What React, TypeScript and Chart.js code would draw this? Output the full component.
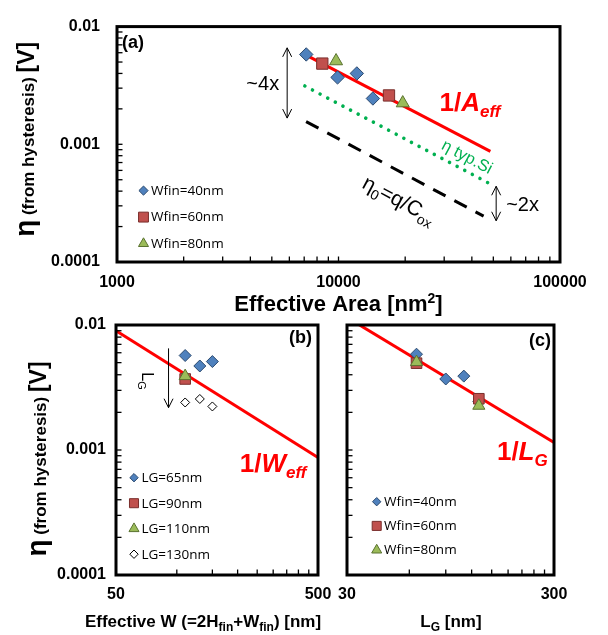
import { useEffect, useRef } from "react";
import { Chart, registerables } from "chart.js";

Chart.register(...registerables);

const W = 608;
const H = 635;
const FONT = "'Liberation Sans', Arial, sans-serif";
const LEGEND_FONT = "'Open Sans', sans-serif";

const BLUE = "#4F81BD";
const BLUE_EDGE = "#2C4A6E";
const RED = "#C0504D";
const RED_EDGE = "#7A2E2C";
const GREEN = "#9BBB59";
const GREEN_EDGE = "#5A7230";

// ---------- axes ----------
const etaMin = 0.0001;
const etaMax = 0.01;
const etaTickLabels = [0.0001, 0.001, 0.01];
const areaTickLabels = [1000, 10000, 100000];
const weffTickLabels = [50, 500];
const lgTickLabels = [30, 300];

// ---------- panel (a): eta vs effective area ----------
const areaW40 = [7150, 9900, 12100, 14300];
const etaW40a = [0.0058, 0.0037, 0.004, 0.00245];
const areaW60 = [8450, 16900];
const etaW60a = [0.00485, 0.0026];
const areaW80 = [9750, 19500];
const etaW80a = [0.0051, 0.00224];
const fitAreaX = [7140, 48500];
const fitAreaY = [0.00573, 0.00087];
const typSiX = [7050, 48500];
const typSiY = [0.00313, 0.00046];
const eta0X = [7140, 45200];
const eta0Y = [0.00156, 0.000245];
const arrow4xX = 5865;
const arrow4xY = [0.0066, 0.00167];
const arrow2xX = 51500;
const arrow2xY = [0.00044, 0.000224];
const labelAeffAt = [28600, 0.0019];
const labelTypSiAt = [38200, 0.00079];
const labelEta0At = [18840, 0.00034];

// ---------- panel (b): eta vs effective W ----------
const weffLG65 = [110, 130, 150];
const etaLG65 = [0.0057, 0.0047, 0.0051];
const weffLG90 = [110];
const etaLG90 = [0.0037];
const weffLG110 = [110];
const etaLG110 = [0.0039];
const weffLG130 = [110, 130, 150];
const etaLG130 = [0.0024, 0.00256, 0.00223];
const fitWX = [50, 500];
const fitWY = [0.009, 0.00087];
const arrowLgX = 91;
const arrowLgY = [0.0065, 0.00218];
const labelLgAt = [72, 0.00356];
const labelWeffAt = [205, 0.00067];

// ---------- panel (c): eta vs LG ----------
const lgW40 = [65, 90, 110, 130];
const etaW40c = [0.00584, 0.0037, 0.0039, 0.00245];
const lgW60 = [65, 130];
const etaW60c = [0.00495, 0.00257];
const lgW80 = [65, 130];
const etaW80c = [0.00505, 0.00226];
const fitLX = [30, 300];
const fitLY = [0.0115, 0.00115];
const labelLgFitAt = [159, 0.00083];

// ---------- helpers ----------
const zip = (xs: number[], ys: number[]) => xs.map((x, i) => ({ x, y: ys[i] }));

const YW = 100;
const XH = 40;
type Area = { left: number; top: number; right: number; bottom: number };
const padFor = (a: Area) => ({ left: a.left - YW, top: a.top, right: W - a.right, bottom: H - a.bottom - XH });

function logAxis(axis: "x" | "y", min: number, max: number, labels: number[], pad: number) {
  return {
    type: "logarithmic",
    position: axis === "x" ? "bottom" : "left",
    min,
    max,
    grid: { display: false, drawTicks: false },
    border: { display: false },
    ticks: {
      autoSkip: false,
      maxRotation: 0,
      minRotation: 0,
      padding: pad,
      color: "#000",
      font: { family: FONT, size: 16, weight: "bold" },
      callback: (v: any) => {
        const n = Number(v);
        const m = labels.find((l) => Math.abs(l - n) <= l * 1e-6);
        return m === undefined ? "" : String(m);
      },
    },
    afterFit: (s: any) => {
      if (axis === "x") s.height = XH;
      else s.width = YW;
    },
  };
}

type Seg = { t: string; size: number; bold?: boolean; italic?: boolean; dy?: number; color?: string };
const segFont = (s: Seg) => `${s.italic ? "italic " : ""}${s.bold ? "bold " : ""}${s.size}px ${FONT}`;

function drawRich(
  ctx: CanvasRenderingContext2D,
  segs: Seg[],
  x: number,
  y: number,
  align: "left" | "center" | "right",
  rotDeg = 0,
  vcenter = false,
  color = "#000"
) {
  ctx.save();
  ctx.translate(x, y);
  if (rotDeg) ctx.rotate((rotDeg * Math.PI) / 180);
  ctx.textAlign = "left";
  ctx.textBaseline = "alphabetic";
  const widths = segs.map((s) => {
    ctx.font = segFont(s);
    return ctx.measureText(s.t).width;
  });
  const total = widths.reduce((a, b) => a + b, 0);
  let cx = align === "left" ? 0 : align === "center" ? -total / 2 : -total;
  const base = vcenter ? segs[0].size * 0.35 : 0;
  segs.forEach((s, i) => {
    ctx.font = segFont(s);
    ctx.fillStyle = s.color ?? color;
    ctx.fillText(s.t, cx, base + (s.dy ?? 0));
    cx += widths[i];
  });
  ctx.restore();
}

function minorValues(min: number, max: number) {
  const out: number[] = [];
  let base = min;
  while (base < max * 0.9999) {
    for (let k = 1; k <= 9; k++) {
      const v = base * k;
      if (v > min * 1.0001 && v < max * 0.9999) out.push(v);
    }
    base *= 10;
  }
  return out;
}

function drawFrame(chart: any) {
  const { ctx, chartArea: a, scales } = chart;
  ctx.save();
  ctx.strokeStyle = "#000";
  ctx.lineWidth = 1.3;
  for (const v of minorValues(scales.x.min, scales.x.max)) {
    const x = scales.x.getPixelForValue(v);
    ctx.beginPath();
    ctx.moveTo(x, a.bottom);
    ctx.lineTo(x, a.bottom - 5.5);
    ctx.stroke();
  }
  for (const v of minorValues(scales.y.min, scales.y.max)) {
    const y = scales.y.getPixelForValue(v);
    ctx.beginPath();
    ctx.moveTo(a.left, y);
    ctx.lineTo(a.left + 5.5, y);
    ctx.stroke();
  }
  ctx.lineWidth = 3;
  ctx.strokeRect(a.left, a.top, a.right - a.left, a.bottom - a.top);
  ctx.restore();
}

function drawMarker(ctx: CanvasRenderingContext2D, style: string, x: number, y: number, r: number, fill: string, edge: string) {
  ctx.beginPath();
  if (style === "rectRot") {
    ctx.moveTo(x - r, y);
    ctx.lineTo(x, y - r);
    ctx.lineTo(x + r, y);
    ctx.lineTo(x, y + r);
  } else if (style === "rect") {
    const s = r * Math.SQRT1_2;
    ctx.rect(x - s, y - s, 2 * s, 2 * s);
  } else {
    ctx.moveTo(x, y - r);
    ctx.lineTo(x + r * 0.866, y + r * 0.5);
    ctx.lineTo(x - r * 0.866, y + r * 0.5);
  }
  ctx.closePath();
  ctx.fillStyle = fill;
  ctx.fill();
  ctx.lineWidth = 1;
  ctx.strokeStyle = edge;
  ctx.stroke();
}

function drawLegend(chart: any, mx: number, tx: number, y0: number, dy: number) {
  const ctx = chart.ctx as CanvasRenderingContext2D;
  let i = 0;
  ctx.save();
  chart.data.datasets.forEach((ds: any) => {
    if (!ds.label) return;
    const y = y0 + dy * i++;
    drawMarker(ctx, ds.pointStyle, mx, y, ds.legendRadius, ds.pointBackgroundColor, ds.pointBorderColor);
    ctx.fillStyle = "#000";
    ctx.font = `13.5px ${LEGEND_FONT}`;
    ctx.textBaseline = "middle";
    ctx.textAlign = "left";
    ctx.fillText(ds.label, tx, y + 0.5);
  });
  ctx.restore();
}

function vArrow(ctx: CanvasRenderingContext2D, x: number, yTop: number, yBot: number, headTop: boolean, headBot: boolean) {
  const hw = 4.5;
  const hl = 9;
  ctx.save();
  ctx.strokeStyle = "#000";
  ctx.lineWidth = 1;
  ctx.beginPath();
  ctx.moveTo(x, yTop);
  ctx.lineTo(x, yBot);
  if (headTop) {
    ctx.moveTo(x - hw, yTop + hl);
    ctx.lineTo(x, yTop);
    ctx.lineTo(x + hw, yTop + hl);
  }
  if (headBot) {
    ctx.moveTo(x - hw, yBot - hl);
    ctx.lineTo(x, yBot);
    ctx.lineTo(x + hw, yBot - hl);
  }
  ctx.stroke();
  ctx.restore();
}

function yTitle(ctx: CanvasRenderingContext2D, x: number, y: number) {
  drawRich(
    ctx,
    [
      { t: "η", size: 28, bold: true },
      { t: " (from hysteresis) ", size: 17, bold: true },
      { t: "[V]", size: 23, bold: true },
    ],
    x,
    y,
    "center",
    -90
  );
}

function scatterSet(label: string, xs: number[], ys: number[], style: string, r: number, lr: number, fill: string, edge: string, order: number) {
  return {
    label,
    data: zip(xs, ys),
    pointStyle: style,
    pointRadius: r,
    pointHoverRadius: r,
    pointBackgroundColor: fill,
    pointBorderColor: edge,
    pointBorderWidth: 1,
    backgroundColor: fill,
    borderColor: edge,
    showLine: false,
    legendRadius: lr,
    order,
  };
}

function lineSet(xs: number[], ys: number[], color: string, width: number, dash: number[], cap: string, order: number) {
  return {
    data: zip(xs, ys),
    showLine: true,
    pointRadius: 0,
    pointHoverRadius: 0,
    borderColor: color,
    borderWidth: width,
    borderDash: dash,
    borderCapStyle: cap,
    fill: false,
    order,
  };
}

function baseOptions(area: Area, xAxis: any, yAxis: any) {
  return {
    responsive: false,
    animation: false,
    devicePixelRatio: 1,
    events: [],
    layout: { padding: padFor(area) },
    scales: { x: xAxis, y: yAxis },
    plugins: { legend: { display: false }, tooltip: { enabled: false }, title: { display: false } },
  };
}

const areaA: Area = { left: 117, top: 14, right: 560, bottom: 262 };
const areaB: Area = { left: 116, top: 325, right: 318, bottom: 575 };
const areaC: Area = { left: 347, top: 325, right: 554, bottom: 575 };

function configA(): any {
  return {
    type: "scatter",
    data: {
      datasets: [
        scatterSet("Wfin=40nm", areaW40, etaW40a, "rectRot", 6.7, 4.6, BLUE, BLUE_EDGE, 3),
        scatterSet("Wfin=60nm", areaW60, etaW60a, "rect", 8, 7, RED, RED_EDGE, 2),
        scatterSet("Wfin=80nm", areaW80, etaW80a, "triangle", 7.5, 5.8, GREEN, GREEN_EDGE, 1),
        lineSet(fitAreaX, fitAreaY, "#FF0000", 3, [], "butt", 5),
        lineSet(typSiX, typSiY, "#00B050", 3.6, [0.01, 8.6], "round", 6),
        lineSet(eta0X, eta0Y, "#000000", 3, [14, 10], "butt", 7),
      ],
    },
    options: baseOptions(areaA, logAxis("x", 1000, 100000, areaTickLabels, 11), logAxis("y", etaMin, etaMax, etaTickLabels, 17)),
    plugins: [
      {
        id: "decoA",
        afterDatasetsDraw(chart: any) {
          const ctx = chart.ctx as CanvasRenderingContext2D;
          const a = chart.chartArea;
          const px = (v: number) => chart.scales.x.getPixelForValue(v);
          const py = (v: number) => chart.scales.y.getPixelForValue(v);
          drawFrame(chart);
          drawRich(ctx, [{ t: "(a)", size: 18, bold: true }], a.left + 5, a.top + 15.5, "left", 0, true);
          const x4 = px(arrow4xX);
          vArrow(ctx, x4, py(arrow4xY[0]), py(arrow4xY[1]), true, true);
          const ym4 = (py(arrow4xY[0]) + py(arrow4xY[1])) / 2;
          drawRich(ctx, [{ t: "~4x", size: 20 }], x4 - 8, ym4, "right", 0, true);
          const x2 = px(arrow2xX);
          vArrow(ctx, x2, py(arrow2xY[0]), py(arrow2xY[1]), true, true);
          const ym2 = (py(arrow2xY[0]) + py(arrow2xY[1])) / 2;
          drawRich(ctx, [{ t: "~2x", size: 20 }], x2 + 10, ym2, "left", 0, true);
          drawRich(
            ctx,
            [
              { t: "1/", size: 26, bold: true },
              { t: "A", size: 26, bold: true, italic: true },
              { t: "eff", size: 17, bold: true, italic: true, dy: 6 },
            ],
            px(labelAeffAt[0]),
            py(labelAeffAt[1]),
            "left",
            0,
            false,
            "#FF0000"
          );
          const angG = (Math.atan2(py(typSiY[1]) - py(typSiY[0]), px(typSiX[1]) - px(typSiX[0])) * 180) / Math.PI;
          drawRich(ctx, [{ t: "η typ.Si", size: 16.5 }], px(labelTypSiAt[0]), py(labelTypSiAt[1]), "center", angG, true, "#00B050");
          const angK = (Math.atan2(py(eta0Y[1]) - py(eta0Y[0]), px(eta0X[1]) - px(eta0X[0])) * 180) / Math.PI;
          drawRich(
            ctx,
            [
              { t: "η", size: 21 },
              { t: "0", size: 14, dy: 5 },
              { t: "=q/C", size: 21 },
              { t: "ox", size: 14, dy: 5 },
            ],
            px(labelEta0At[0]),
            py(labelEta0At[1]),
            "center",
            angK,
            true
          );
          drawLegend(chart, a.left + 26.5, a.left + 34, a.top + 164, 26.5);
          yTitle(ctx, 34, (a.top + a.bottom) / 2 - 5);
          drawRich(
            ctx,
            [
              { t: "Effective Area [nm", size: 22, bold: true },
              { t: "2", size: 14, bold: true, dy: -8 },
              { t: "]", size: 22, bold: true },
            ],
            (a.left + a.right) / 2,
            a.bottom + 49,
            "center"
          );
        },
      },
    ],
  };
}

function configB(): any {
  return {
    type: "scatter",
    data: {
      datasets: [
        scatterSet("LG=65nm", weffLG65, etaLG65, "rectRot", 6, 4.2, BLUE, BLUE_EDGE, 4),
        scatterSet("LG=90nm", weffLG90, etaLG90, "rect", 7.5, 6.4, RED, RED_EDGE, 3),
        scatterSet("LG=110nm", weffLG110, etaLG110, "triangle", 7, 5.8, GREEN, GREEN_EDGE, 2),
        scatterSet("LG=130nm", weffLG130, etaLG130, "rectRot", 4.5, 4.2, "#FFFFFF", "#000000", 1),
        lineSet(fitWX, fitWY, "#FF0000", 3, [], "butt", 5),
      ],
    },
    options: baseOptions(areaB, logAxis("x", 50, 500, weffTickLabels, 10), logAxis("y", etaMin, etaMax, etaTickLabels, 10)),
    plugins: [
      {
        id: "decoB",
        afterDatasetsDraw(chart: any) {
          const ctx = chart.ctx as CanvasRenderingContext2D;
          const a = chart.chartArea;
          const px = (v: number) => chart.scales.x.getPixelForValue(v);
          const py = (v: number) => chart.scales.y.getPixelForValue(v);
          drawFrame(chart);
          drawRich(ctx, [{ t: "(b)", size: 18, bold: true }], a.right - 6, a.top + 12, "right", 0, true);
          vArrow(ctx, px(arrowLgX), py(arrowLgY[0]), py(arrowLgY[1]), false, true);
          drawRich(
            ctx,
            [
              { t: "L", size: 16 },
              { t: "G", size: 11, dy: 4 },
            ],
            px(labelLgAt[0]),
            py(labelLgAt[1]),
            "center",
            90,
            true
          );
          drawRich(
            ctx,
            [
              { t: "1/", size: 26, bold: true },
              { t: "W", size: 26, bold: true, italic: true },
              { t: "eff", size: 17, bold: true, italic: true, dy: 6 },
            ],
            px(labelWeffAt[0]),
            py(labelWeffAt[1]),
            "left",
            0,
            false,
            "#FF0000"
          );
          drawLegend(chart, a.left + 18, a.left + 25.5, a.top + 152.7, 25.5);
          yTitle(ctx, 46, 459);
          drawRich(
            ctx,
            [
              { t: "Effective W (=2H", size: 17, bold: true },
              { t: "fin", size: 12, bold: true, dy: 4 },
              { t: "+W", size: 17, bold: true },
              { t: "fin", size: 12, bold: true, dy: 4 },
              { t: ") [nm]", size: 17, bold: true },
            ],
            203,
            627,
            "center"
          );
        },
      },
    ],
  };
}

function configC(): any {
  return {
    type: "scatter",
    data: {
      datasets: [
        scatterSet("Wfin=40nm", lgW40, etaW40c, "rectRot", 6, 4.2, BLUE, BLUE_EDGE, 3),
        scatterSet("Wfin=60nm", lgW60, etaW60c, "rect", 7.5, 6.4, RED, RED_EDGE, 2),
        scatterSet("Wfin=80nm", lgW80, etaW80c, "triangle", 7, 5.8, GREEN, GREEN_EDGE, 1),
        lineSet(fitLX, fitLY, "#FF0000", 3, [], "butt", 5),
      ],
    },
    options: baseOptions(areaC, logAxis("x", 30, 300, lgTickLabels, 10), logAxis("y", etaMin, etaMax, [], 10)),
    plugins: [
      {
        id: "decoC",
        afterDatasetsDraw(chart: any) {
          const ctx = chart.ctx as CanvasRenderingContext2D;
          const a = chart.chartArea;
          const px = (v: number) => chart.scales.x.getPixelForValue(v);
          const py = (v: number) => chart.scales.y.getPixelForValue(v);
          drawFrame(chart);
          drawRich(ctx, [{ t: "(c)", size: 18, bold: true }], a.right - 3, a.top + 15, "right", 0, true);
          drawRich(
            ctx,
            [
              { t: "1/", size: 26, bold: true },
              { t: "L", size: 26, bold: true, italic: true },
              { t: "G", size: 17, bold: true, italic: true, dy: 6 },
            ],
            px(labelLgFitAt[0]),
            py(labelLgFitAt[1]),
            "left",
            0,
            false,
            "#FF0000"
          );
          drawLegend(chart, a.left + 29.7, a.left + 37, a.top + 176.7, 24.2);
          drawRich(
            ctx,
            [
              { t: "L", size: 17, bold: true },
              { t: "G", size: 12, bold: true, dy: 4 },
              { t: " [nm]", size: 17, bold: true },
            ],
            451,
            627,
            "center"
          );
        },
      },
    ],
  };
}

export default function App() {
  const refA = useRef<HTMLCanvasElement>(null);
  const refB = useRef<HTMLCanvasElement>(null);
  const refC = useRef<HTMLCanvasElement>(null);

  useEffect(() => {
    const charts = [
      new Chart(refA.current as HTMLCanvasElement, configA()),
      new Chart(refB.current as HTMLCanvasElement, configB()),
      new Chart(refC.current as HTMLCanvasElement, configC()),
    ];
    return () => charts.forEach((c) => c.destroy());
  }, []);

  const st: any = { position: "absolute", left: 0, top: 0, width: W, height: H };
  return (
    <div style={{ position: "absolute", left: 0, top: 0, width: W, height: H, background: "#fff" }}>
      <canvas ref={refA} width={W} height={H} style={st} />
      <canvas ref={refB} width={W} height={H} style={st} />
      <canvas ref={refC} width={W} height={H} style={st} />
    </div>
  );
}
